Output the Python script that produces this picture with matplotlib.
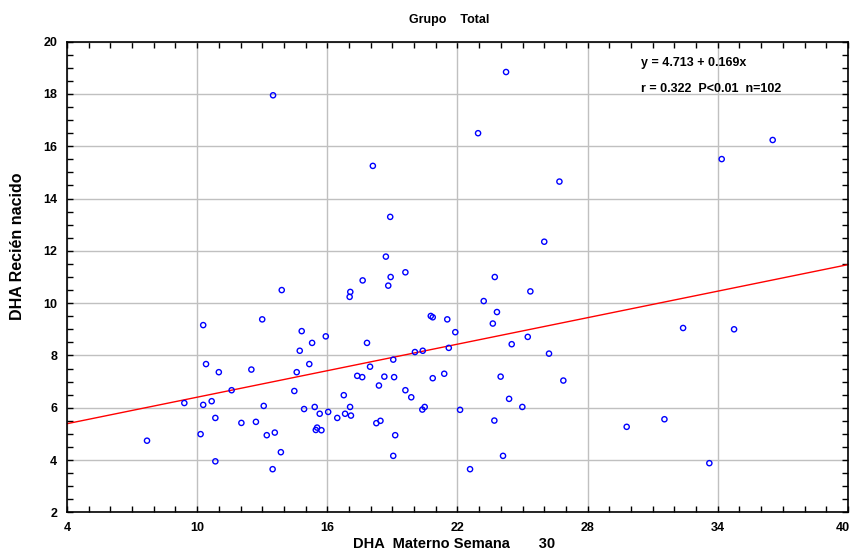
import matplotlib
matplotlib.use('Agg')
import matplotlib.pyplot as plt
from matplotlib.ticker import MultipleLocator, FixedLocator
from matplotlib.transforms import ScaledTranslation

plt.rcParams['font.family'] = ['Liberation Sans', 'DejaVu Sans']

# DHA materno (semana 30) vs DHA recién nacido
dha_materno = [13.5, 24.24, 22.95, 18.1, 26.7, 18.9, 26.0, 18.7, 19.6, 18.92,
               17.63, 23.72, 36.53, 34.18,
               13.9, 10.28, 13.0, 14.82, 15.93, 15.3, 14.73, 10.41, 15.17, 11.0,
               12.5, 14.59, 11.59, 14.48, 9.41, 10.28, 10.67, 13.07, 15.42, 14.93,
               15.65, 16.04, 10.84, 12.04, 12.71, 10.16, 13.21, 13.58, 15.53, 15.47,
               15.73, 7.69, 13.86, 10.84, 13.48,
               18.81, 17.06, 17.03, 25.36, 23.21, 23.82, 23.63, 20.77, 20.86, 21.53,
               21.9, 17.83, 25.24, 24.5, 21.6, 20.04, 20.4, 19.04, 26.22, 17.97,
               17.38, 17.61, 18.63, 19.08, 20.86, 21.39, 23.99, 26.88, 18.38, 19.6,
               16.76, 19.87, 24.38, 17.05, 20.49, 20.38, 24.99, 22.12, 16.82, 17.09,
               16.46, 18.45, 18.26, 23.7, 19.13, 19.04, 24.1, 22.58,
               32.4, 34.75, 31.54, 29.8, 33.61]
dha_rn = [17.95, 18.84, 16.5, 15.25, 14.65, 13.3, 12.35, 11.78, 11.18, 11.0,
          10.87, 11.0, 16.24, 15.51,
          10.5, 9.16, 9.38, 8.93, 8.73, 8.48, 8.18, 7.67, 7.67, 7.36,
          7.46, 7.36, 6.67, 6.64, 6.18, 6.11, 6.25, 6.07, 6.03, 5.95,
          5.77, 5.84, 5.61, 5.42, 5.46, 4.99, 4.95, 5.05, 5.24, 5.15,
          5.14, 4.74, 4.3, 3.95, 3.65,
          10.67, 10.43, 10.24, 10.45, 10.08, 9.66, 9.22, 9.51, 9.46, 9.38,
          8.89, 8.48, 8.71, 8.43, 8.29, 8.13, 8.18, 7.84, 8.07, 7.57,
          7.22, 7.17, 7.19, 7.17, 7.13, 7.3, 7.19, 7.04, 6.85, 6.67,
          6.48, 6.4, 6.34, 6.03, 6.03, 5.93, 6.03, 5.92, 5.77, 5.7,
          5.61, 5.5, 5.41, 5.51, 4.95, 4.16, 4.16, 3.65,
          9.05, 9.0, 5.56, 5.27, 3.88]

intercept = 4.713
slope = 0.169
x_range = [4, 40]
x_ticks = [4, 10, 16, 22, 28, 34, 40]

fig = plt.figure(figsize=(8.53, 5.5), dpi=100)
ax = fig.add_axes([0.0785, 0.0685, 0.9156, 0.8557])

ax.scatter(dha_materno, dha_rn, s=14, facecolors='none', edgecolors='#0000ff',
           linewidths=1.0, zorder=3)
ax.plot(x_range, [intercept + slope * v for v in x_range], color='#ff0000',
        linewidth=1.0, zorder=2)

ax.set_xlim(4, 40)
ax.set_ylim(2, 20)
ax.xaxis.set_major_locator(FixedLocator(x_ticks))
ax.xaxis.set_minor_locator(MultipleLocator(1))
ax.yaxis.set_major_locator(MultipleLocator(2))
ax.yaxis.set_minor_locator(MultipleLocator(0.5))
ax.tick_params(which='both', direction='in', top=True, right=True, width=1, colors='black')
ax.tick_params(which='major', length=4, labelsize=9, pad=7)
ax.tick_params(which='minor', length=4)
for lbl in ax.get_xticklabels() + ax.get_yticklabels():
    lbl.set_fontweight('bold')
# el "40" queda pegado al borde derecho
last = ax.get_xticklabels()[-1]
last.set_transform(last.get_transform() + ScaledTranslation(-4 / 72, 0, fig.dpi_scale_trans))
ax.grid(True, which='major', color='#c0c0c0', linewidth=1.0, zorder=0)
ax.set_axisbelow(True)
for sp in ax.spines.values():
    sp.set_linewidth(1.2)

ax.text(0.735, 0.955, 'y = 4.713 + 0.169x', transform=ax.transAxes,
        fontsize=9, fontweight='bold', va='center', ha='left')
ax.text(0.735, 0.9, 'r = 0.322  P<0.01  n=102', transform=ax.transAxes,
        fontsize=9, fontweight='bold', va='center', ha='left')

fig.text(0.527, 0.963, 'Grupo    Total', ha='center', va='center',
         fontsize=9, fontweight='bold')
fig.text(0.532, 0.01, 'DHA  Materno Semana       30', ha='center', va='center',
         fontsize=10.5, fontweight='bold')
fig.text(0.021, 0.553, 'DHA Recién nacido', ha='center', va='center',
         rotation=90, fontsize=11.5, fontweight='bold')

fig.savefig('out.png', dpi=100)
